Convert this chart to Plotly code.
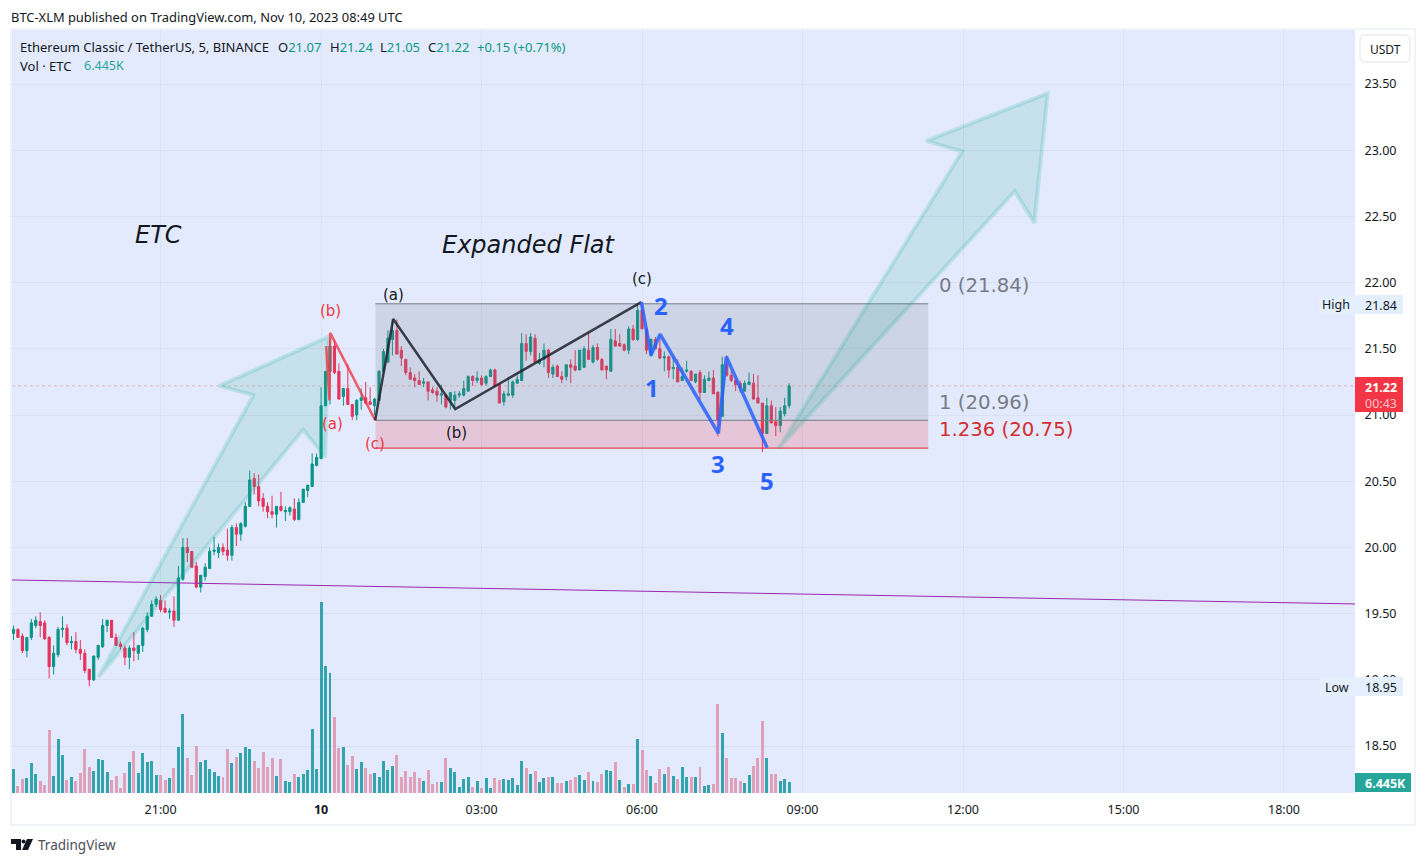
# ETC 5m chart with elliott wave drawings
import pandas as pd
import plotly.graph_objects as go

W, H = 1426, 864
L, R, T, B = 12, 1355, 30, 793

opens = [19.35,19.38,19.33,19.22,19.32,19.41,19.44,19.43,19.32,19.10,
         19.19,19.38,19.39,19.28,19.29,19.23,19.20,19.08,19.00,19.17,
         19.25,19.41,19.45,19.32,19.27,19.24,19.17,19.24,19.20,19.26,
         19.38,19.48,19.57,19.60,19.54,19.51,19.52,19.45,19.76,20.00,
         19.97,19.86,19.70,19.78,19.84,19.97,19.96,20.00,19.98,19.94,
         20.15,20.10,20.16,20.31,20.52,20.46,20.37,20.31,20.27,20.25,
         20.31,20.27,20.27,20.29,20.21,20.34,20.43,20.46,20.62,20.67,
         21.07,21.33,21.52,21.33,21.14,21.20,21.08,21.00,21.11,21.13,
         21.10,21.07,21.11,21.33,21.40,21.57,21.64,21.49,21.42,21.32,
         21.28,21.26,21.24,21.25,21.19,21.18,21.15,21.15,21.11,21.11,
         21.15,21.15,21.18,21.29,21.26,21.28,21.24,21.29,21.34,21.23,
         21.10,21.15,21.15,21.24,21.26,21.54,21.48,21.58,21.39,21.42,
         21.49,21.31,21.37,21.29,21.29,21.38,21.37,21.34,21.36,21.49,
         21.40,21.51,21.42,21.37,21.33,21.56,21.54,21.53,21.49,21.65,
         21.57,21.79,21.65,21.45,21.57,21.50,21.43,21.44,21.35,21.36,
         21.26,21.33,21.33,21.25,21.32,21.17,21.26,21.28,21.17,20.99,
         21.38,21.30,21.26,21.24,21.18,21.23,21.24,21.13,21.09,20.86,
         21.07,20.95,20.92,21.01,21.07]
highs = [19.41,19.39,19.35,19.32,19.46,19.48,19.51,19.45,19.33,19.26,
         19.40,19.48,19.42,19.33,19.36,19.30,19.23,19.08,19.18,19.26,
         19.46,19.45,19.45,19.35,19.29,19.26,19.26,19.36,19.26,19.40,
         19.51,19.60,19.63,19.64,19.60,19.54,19.63,19.86,20.07,20.07,
         19.97,19.89,19.79,19.88,20.00,20.08,20.03,20.03,20.14,20.17,
         20.18,20.19,20.34,20.58,20.56,20.55,20.41,20.34,20.39,20.31,
         20.42,20.31,20.31,20.37,20.37,20.44,20.47,20.71,20.71,21.21,
         21.33,21.58,21.57,21.39,21.20,21.38,21.08,21.12,21.20,21.25,
         21.21,21.13,21.34,21.50,21.64,21.72,21.72,21.52,21.42,21.36,
         21.31,21.33,21.28,21.25,21.21,21.21,21.23,21.16,21.17,21.18,
         21.18,21.26,21.30,21.30,21.33,21.30,21.30,21.35,21.35,21.24,
         21.18,21.29,21.26,21.30,21.62,21.61,21.62,21.61,21.47,21.54,
         21.50,21.38,21.38,21.33,21.38,21.42,21.49,21.49,21.52,21.63,
         21.53,21.54,21.43,21.37,21.65,21.65,21.61,21.54,21.67,21.68,
         21.84,21.84,21.66,21.58,21.59,21.59,21.48,21.45,21.44,21.42,
         21.36,21.41,21.34,21.31,21.34,21.30,21.33,21.34,21.18,21.44,
         21.45,21.33,21.27,21.26,21.26,21.32,21.31,21.30,21.09,21.13,
         21.11,21.06,21.06,21.13,21.24]
lows = [19.30,19.32,19.20,19.17,19.30,19.39,19.32,19.30,19.01,19.04,
        19.17,19.32,19.26,19.23,19.20,19.15,19.05,18.95,18.99,19.15,
        19.24,19.36,19.32,19.26,19.23,19.11,19.08,19.14,19.15,19.21,
        19.36,19.48,19.55,19.51,19.51,19.46,19.40,19.45,19.75,19.89,
        19.85,19.69,19.66,19.75,19.84,19.94,19.92,19.94,19.90,19.90,
        20.01,20.05,20.15,20.31,20.40,20.31,20.27,20.22,20.22,20.15,
        20.27,20.20,20.24,20.20,20.21,20.34,20.38,20.46,20.61,20.67,
        21.07,21.08,21.31,21.12,21.07,21.08,20.96,20.96,21.04,21.08,
        21.08,21.00,21.11,21.32,21.39,21.45,21.46,21.37,21.30,21.27,
        21.21,21.23,21.21,21.11,21.16,21.10,21.08,21.05,21.04,21.04,
        21.13,21.14,21.18,21.22,21.24,21.22,21.22,21.29,21.21,21.09,
        21.07,21.14,21.13,21.24,21.26,21.41,21.45,21.40,21.38,21.36,
        21.28,21.28,21.29,21.24,21.26,21.24,21.33,21.34,21.36,21.42,
        21.39,21.41,21.34,21.27,21.33,21.52,21.52,21.48,21.46,21.56,
        21.56,21.65,21.46,21.44,21.50,21.42,21.33,21.28,21.27,21.25,
        21.26,21.32,21.26,21.24,21.11,21.17,21.26,21.16,20.84,20.99,
        21.29,21.25,21.18,21.17,21.18,21.23,21.12,21.09,20.72,20.86,
        20.94,20.84,20.87,20.99,21.05]
closes = [19.38,19.32,19.22,19.32,19.43,19.45,19.41,19.31,19.10,19.20,
          19.38,19.39,19.28,19.29,19.23,19.20,19.07,19.00,19.18,19.26,
          19.41,19.45,19.32,19.26,19.25,19.17,19.24,19.22,19.26,19.39,
          19.48,19.57,19.61,19.53,19.51,19.52,19.45,19.77,20.00,19.96,
          19.85,19.70,19.79,19.85,19.97,19.98,20.00,19.97,19.94,20.15,
          20.10,20.18,20.31,20.51,20.46,20.35,20.31,20.27,20.25,20.31,
          20.28,20.28,20.30,20.21,20.34,20.44,20.47,20.63,20.68,21.07,
          21.33,21.52,21.32,21.12,21.20,21.08,20.99,21.11,21.13,21.09,
          21.08,21.12,21.33,21.48,21.58,21.64,21.46,21.43,21.32,21.27,
          21.26,21.23,21.25,21.18,21.17,21.15,21.16,21.06,21.17,21.15,
          21.16,21.20,21.29,21.26,21.28,21.23,21.29,21.34,21.22,21.09,
          21.16,21.16,21.25,21.27,21.54,21.48,21.59,21.40,21.42,21.49,
          21.32,21.36,21.29,21.27,21.38,21.36,21.34,21.49,21.50,21.42,
          21.51,21.42,21.34,21.34,21.57,21.52,21.52,21.49,21.65,21.57,
          21.79,21.65,21.49,21.57,21.50,21.43,21.44,21.34,21.36,21.25,
          21.29,21.34,21.26,21.31,21.17,21.27,21.28,21.16,20.96,21.38,
          21.30,21.26,21.23,21.20,21.24,21.25,21.12,21.09,20.86,21.07,
          20.94,20.92,21.03,21.07,21.22]
# volume in K ETC
volumes = [14.0,4.1,8.2,8.8,17.6,11.1,7.0,4.7,36.9,9.9,
           31.6,22.2,7.6,9.4,7.0,11.7,25.7,15.2,12.9,19.9,
           19.3,12.3,7.6,9.9,2.9,11.7,18.1,24.6,11.7,23.4,
           18.1,18.7,10.5,10.5,7.6,8.8,14.6,26.9,46.2,20.5,
           10.5,27.5,18.1,19.3,14.0,12.3,9.9,9.4,25.7,17.6,
           21.1,23.4,26.9,25.7,18.7,14.6,24.0,15.2,20.5,9.9,
           19.9,7.0,6.4,11.1,9.4,11.1,13.5,37.4,14.0,111.7,
           74.3,70.2,44.5,26.3,26.9,16.4,21.6,14.0,18.1,14.6,
           11.1,11.7,9.4,18.7,13.5,15.8,22.2,9.4,12.9,9.4,
           12.3,8.8,7.0,13.5,5.3,6.4,6.4,20.5,14.6,12.3,
           3.5,8.2,9.4,3.5,7.0,2.9,8.8,2.9,8.8,7.6,
           8.2,7.6,8.8,4.7,18.7,14.6,11.1,12.9,6.4,8.8,
           9.4,9.4,5.9,5.9,7.0,7.6,9.4,10.5,7.6,12.3,
           7.0,6.4,11.1,13.5,12.9,18.1,7.6,3.5,5.3,5.3,
           31.6,25.2,13.5,9.9,5.9,14.0,11.1,15.2,9.9,8.2,
           15.2,9.4,9.4,9.4,15.2,4.1,4.7,5.3,52.1,35.1,
           20.5,8.8,8.8,7.0,5.9,10.5,15.8,20.5,42.1,20.5,
           11.1,11.1,7.0,8.2,6.445]
vol_green_extra = [133, 136]

times = pd.date_range("2023-11-09 18:15", periods=len(closes), freq="5min")

tick_times = ["2023-11-09 21:00", "2023-11-10 00:00", "2023-11-10 03:00", "2023-11-10 06:00",
              "2023-11-10 09:00", "2023-11-10 12:00", "2023-11-10 15:00", "2023-11-10 18:00"]
tick_names = ["21:00", "<b>10</b>", "03:00", "06:00", "09:00", "12:00", "15:00", "18:00"]
price_ticks = [18.5, 19.0, 19.5, 20.0, 20.5, 21.0, 21.5, 22.0, 22.5, 23.0, 23.5]
x_range = ["2023-11-09 18:13:20", "2023-11-10 19:19:40"]
y_range = [18.145, 23.908]

# drawings
arrow1_t = ["2023-11-09 19:50:12", "2023-11-09 22:44:00", "2023-11-09 22:05:40", "2023-11-10 00:08:00",
            "2023-11-10 00:04:36", "2023-11-09 23:40:00", "2023-11-09 19:50:12"]
arrow1_p = [19.02, 21.15, 21.22, 21.59, 20.68, 20.89, 19.02]
arrow2_t = ["2023-11-10 08:33:20", "2023-11-10 11:59:00", "2023-11-10 11:19:00", "2023-11-10 13:35:00",
            "2023-11-10 13:20:00", "2023-11-10 12:58:00", "2023-11-10 08:33:20"]
arrow2_p = [20.75, 22.99, 23.07, 23.43, 22.45, 22.69, 20.75]

wave_abc_t = ["2023-11-10 01:00:42", "2023-11-10 01:20:55", "2023-11-10 02:30:30", "2023-11-10 05:59:12"]
wave_abc_p = [20.96, 21.725, 21.045, 21.853]
wave_red_t = ["2023-11-10 00:05:42", "2023-11-10 00:09:24", "2023-11-10 00:10:12", "2023-11-10 01:00:42"]
wave_red_p = [21.52, 21.11, 21.62, 20.96]
wave_blue_t = ["2023-11-10 05:59:12", "2023-11-10 06:10:06", "2023-11-10 06:20:12", "2023-11-10 07:25:36",
               "2023-11-10 07:34:36", "2023-11-10 08:20:18"]
wave_blue_p = [21.853, 21.453, 21.61, 20.862, 21.44, 20.753]

fib_t = ["2023-11-10 01:01:00", "2023-11-10 11:21:00"]
fib_0, fib_1, fib_1236 = 21.84, 20.96, 20.75
purple_p = [19.754, 19.573]
last_price = 21.22

BG = "#e3eafd"
GREEN = "#089488"
RED = "#e5345c"
TEXT = "#131722"
GREY = "#787b86"


def px(x):
    return (x - L) / (R - L)


def py(y):
    return (B - y) / (B - T)


def label(x, y, text, size=13, color=TEXT, anchor="left", italic=False, family="Noto Sans"):
    fig.add_annotation(x=px(x), y=py(y), xref="paper", yref="paper", text=text, showarrow=False,
                       xanchor=anchor, yanchor="middle", borderpad=0,
                       font=dict(size=size, color=color, family=family,
                                 style="italic" if italic else "normal"))


def box(x0, y0, x1, y1, fill, line=None):
    fig.add_shape(type="rect", xref="paper", yref="paper", x0=px(x0), x1=px(x1), y0=py(y0), y1=py(y1),
                  fillcolor=fill, line=dict(color=line or "rgba(0,0,0,0)", width=1), layer="above")


def poly(points, fill):
    path = "M" + " L".join(f"{px(a):.5f},{py(b):.5f}" for a, b in points) + " Z"
    fig.add_shape(type="path", xref="paper", yref="paper", path=path, fillcolor=fill,
                  line=dict(width=0), layer="above")


def round_box(x0, y0, x1, y1, r, fill, line):
    p = lambda a, b: f"{px(a):.5f},{py(b):.5f}"
    path = (f"M{p(x0 + r, y0)} L{p(x1 - r, y0)} Q{p(x1, y0)} {p(x1, y0 + r)} L{p(x1, y1 - r)} "
            f"Q{p(x1, y1)} {p(x1 - r, y1)} L{p(x0 + r, y1)} Q{p(x0, y1)} {p(x0, y1 - r)} "
            f"L{p(x0, y0 + r)} Q{p(x0, y0)} {p(x0 + r, y0)} Z")
    fig.add_shape(type="path", xref="paper", yref="paper", path=path, fillcolor=fill,
                  line=dict(color=line, width=1), layer="above")


fig = go.Figure()

fig.add_trace(go.Candlestick(x=times, open=opens, high=highs, low=lows, close=closes,
                             whiskerwidth=0,
                             increasing=dict(line=dict(color=GREEN, width=1), fillcolor=GREEN),
                             decreasing=dict(line=dict(color=RED, width=1), fillcolor=RED)))

vol_colors = ["#33a3ad" if c >= o or i in vol_green_extra else "#dfa0b8"
              for i, (o, c) in enumerate(zip(opens, closes))]
fig.add_trace(go.Bar(x=times, y=volumes, width=200000, marker=dict(color=vol_colors, line=dict(width=0)),
                     yaxis="y2"))

# last price and slow line
fig.add_trace(go.Scatter(x=x_range, y=[last_price, last_price], mode="lines",
                         line=dict(color="rgba(242,54,69,0.3)", width=1, dash="dot")))
fig.add_trace(go.Scatter(x=x_range, y=purple_p, mode="lines", line=dict(color="#9c27b0", width=1)))

# fib box
fig.add_trace(go.Scatter(x=[fib_t[0], fib_t[1], fib_t[1], fib_t[0], fib_t[0]],
                         y=[fib_0, fib_0, fib_1, fib_1, fib_0], mode="lines", fill="toself",
                         fillcolor="rgba(120,123,134,0.2)", line=dict(width=0)))
fig.add_trace(go.Scatter(x=[fib_t[0], fib_t[1], fib_t[1], fib_t[0], fib_t[0]],
                         y=[fib_1, fib_1, fib_1236, fib_1236, fib_1], mode="lines", fill="toself",
                         fillcolor="rgba(242,54,69,0.2)", line=dict(width=0)))
for level, col in [(fib_0, GREY), (fib_1, GREY), (fib_1236, "#e01f26")]:
    fig.add_trace(go.Scatter(x=fib_t, y=[level, level], mode="lines", line=dict(color=col, width=1)))

# big arrows
for xs, ys in [(arrow1_t, arrow1_p), (arrow2_t, arrow2_p)]:
    fig.add_trace(go.Scatter(x=xs, y=ys, mode="lines", fill="toself", fillcolor="rgba(33,167,140,0.15)",
                             line=dict(color="rgba(0,170,150,0.17)", width=4)))

# waves
fig.add_trace(go.Scatter(x=wave_red_t, y=wave_red_p, mode="lines", line=dict(color="rgba(242,54,69,0.8)", width=2.5)))
fig.add_trace(go.Scatter(x=wave_abc_t, y=wave_abc_p, mode="lines", line=dict(color="rgba(30,34,45,0.85)", width=2.5)))
fig.add_trace(go.Scatter(x=wave_blue_t, y=wave_blue_p, mode="lines", line=dict(color="rgba(41,98,255,0.85)", width=3.5)))

fig.update_layout(
    width=W, height=H, showlegend=False, paper_bgcolor="white", plot_bgcolor=BG,
    margin=dict(l=L, r=W - R, t=T, b=H - B), hovermode=False, bargap=0,
    font=dict(family="Noto Sans", size=12, color=TEXT),
    xaxis=dict(range=x_range, type="date", rangeslider=dict(visible=False), tickvals=tick_times,
               ticktext=tick_names, tickangle=0, gridcolor="#d8e0f3", gridwidth=1, showline=False, zeroline=False,
               ticks="outside", ticklen=5, tickcolor="rgba(0,0,0,0)", tickfont=dict(size=12.5, color=TEXT)),
    yaxis=dict(range=y_range, side="right", tickvals=price_ticks, tickformat=".2f", gridcolor="#d8e0f3",
               gridwidth=1, showline=False, zeroline=False, ticks="outside", ticklen=6,
               tickcolor="rgba(0,0,0,0)", tickfont=dict(size=12.5, color=TEXT)),
    yaxis2=dict(range=[0, 447], overlaying="y", visible=False),
)

# frame around the chart
fig.add_shape(type="rect", xref="paper", yref="paper", x0=px(11), x1=px(1415), y0=py(825), y1=py(29),
              line=dict(color="#f0f3fa", width=2), layer="above")

# USDT button
round_box(1360, 35, 1410, 62, 5, "white", "#e0e3eb")
label(1385, 49, "USDT", 12, TEXT, "center")

# axis tags
box(1319, 295, 1403, 314, "#e3effd")
label(1336, 304, "High", 12.5, TEXT, "center")
label(1381, 305, "21.84", 12.5, TEXT, "center")
box(1320, 677, 1403, 696, "#e3effd")
label(1337, 687, "Low", 12.5, TEXT, "center")
label(1381, 687, "18.95", 12.5, TEXT, "center")
box(1355, 377, 1403, 412, "#f23645")
label(1381, 387, "<b>21.22</b>", 12.5, "white", "center")
label(1381, 403, "00:43", 12.5, "rgba(255,255,255,0.7)", "center")
box(1355, 773, 1411, 792, "#26a69a")
label(1385, 783, "<b>6.445K</b>", 12.5, "white", "center")

# header
label(10, 17, "BTC-XLM published on TradingView.com, Nov 10, 2023 08:49 UTC", 12.9)
label(19, 47, "Ethereum Classic / TetherUS, 5, BINANCE", 13)
for x_, head, val in [(277, "O", "21.07"), (329, "H", "21.24"), (379, "L", "21.05"), (427, "C", "21.22")]:
    label(x_, 47, f"{head}<span style='color:#089981'>{val}</span>", 13)
label(476, 47, "+0.15 (+0.71%)", 13, "#089981")
label(19, 66, "Vol · ETC", 13)
label(83, 66, "6.445K", 12.5, "#26a69a")

# chart texts
DV = "DejaVu Sans"
label(158, 235, "ETC", 24, TEXT, "center", True, DV)
label(529, 245, "Expanded Flat", 24, TEXT, "center", True, DV)
label(393, 295, "(a)", 15, TEXT, "center", False, DV)
label(456, 433, "(b)", 15, TEXT, "center", False, DV)
label(642, 279, "(c)", 15, TEXT, "center", False, DV)
label(330, 311, "(b)", 15, "#f23645", "center", False, DV)
label(332, 424, "(a)", 15, "#f23645", "center", False, DV)
label(375, 444, "(c)", 15, "#f23645", "center", False, DV)
for x_, y_, txt in [(652, 387, "1"), (661, 305, "2"), (718, 464, "3"), (727, 326, "4"), (767, 480, "5")]:
    label(x_, y_, f"<b>{txt}</b>", 24, "#2962ff", "center")
label(938, 285, "0 (21.84)", 19.7, GREY, "left", False, DV)
label(938, 402, "1 (20.96)", 19.7, GREY, "left", False, DV)
label(938, 429, "1.236 (20.75)", 19.7, "#d32f2f", "left", False, DV)

# logo
poly([(11, 839), (21, 839), (21, 850), (16, 850), (16, 844), (11, 844)], TEXT)
poly([(27, 839), (33, 839), (28, 850), (22, 850)], TEXT)
fig.add_shape(type="circle", xref="paper", yref="paper", x0=px(21.5), x1=px(25.5), y0=py(843.5), y1=py(839.5),
              fillcolor=TEXT, line=dict(width=0), layer="above")
label(37, 845, "TradingView", 13.5, "#4a4e5a")

fig.write_html("out.html", post_script="document.body.style.margin='0';", config={"displayModeBar": False})
